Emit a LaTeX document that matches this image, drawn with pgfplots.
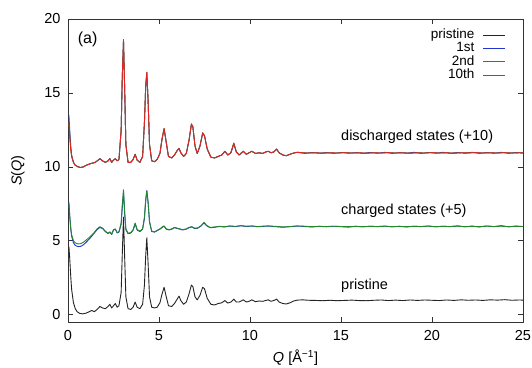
\documentclass[border=0pt]{standalone}
\usepackage{pgfplots}
\pgfplotsset{compat=1.18}
\usepackage{pgfplotstable}
\usepackage{fontspec}
\setmainfont{Liberation Sans}
\definecolor{cblack}{RGB}{35,35,35}
\definecolor{cblue}{RGB}{35,55,205}
\definecolor{cgreen}{RGB}{35,135,45}
\definecolor{cred}{RGB}{228,35,35}

\pgfplotstableread{
q s
0.05 4.6
0.1 3.7
0.15 2.6
0.2 1.7
0.3 0.8
0.4 0.4
0.5 0.2
0.65 0.08
0.8 0.05
1.0 0.1
1.2 0.22
1.3 0.28
1.45 0.2
1.6 0.35
1.75 0.55
1.9 0.45
2.05 0.4
2.2 0.55
2.3 0.7
2.4 0.45
2.5 0.6
2.6 0.75
2.7 0.5
2.8 0.6
2.92 1.5
2.98 4.0
3.05 6.6
3.11 4.0
3.18 1.2
3.3 0.4
3.45 0.35
3.58 0.5
3.69 0.85
3.8 0.5
3.95 0.4
4.1 0.7
4.2 2.0
4.27 4.0
4.33 5.2
4.4 3.5
4.48 1.2
4.6 0.5
4.75 0.45
4.9 0.5
5.05 0.8
5.17 1.4
5.28 1.85
5.38 1.3
5.52 0.6
5.7 0.55
5.85 0.75
6.0 1.05
6.1 1.25
6.2 0.95
6.35 0.7
6.5 0.85
6.65 1.4
6.78 2.0
6.86 1.9
6.98 1.2
7.1 1.0
7.25 1.3
7.4 1.85
7.5 1.75
7.65 1.1
7.85 0.7
8.05 0.65
8.25 0.75
8.45 0.8
8.62 0.95
8.78 0.78
8.95 0.85
9.11 1.05
9.25 0.85
9.4 0.85
9.63 1.0
9.8 0.85
9.95 0.9
10.1 1.0
10.3 0.88
10.5 0.92
10.7 0.9
10.85 0.95
11.0 1.0
11.15 0.9
11.3 0.95
11.46 1.05
11.6 0.85
11.8 0.75
12.0 0.72
12.2 0.8
12.4 0.92
12.6 0.98
12.9 1.0
13.2 0.97
13.6 0.96
14.0 0.94
14.4 0.97
14.8 0.94
15.2 0.96
15.6 0.98
16.0 0.95
16.4 0.94
16.8 0.97
17.2 0.99
17.6 0.95
18.0 0.98
18.4 0.95
18.8 0.99
19.2 0.96
19.6 0.99
20.0 0.97
20.4 0.95
20.8 0.99
21.2 0.96
21.6 1.0
22.0 0.97
22.4 0.99
22.8 0.96
23.2 1.0
23.6 0.98
24.0 1.01
24.4 0.97
24.8 0.99
25.0 0.98
}\pristine

\pgfplotstableread{
q s
0.05 7.6
0.1 6.6
0.15 5.8
0.2 5.3
0.3 4.85
0.4 4.68
0.55 4.6
0.7 4.62
0.85 4.72
1.0 4.9
1.2 5.15
1.4 5.45
1.6 5.75
1.75 5.9
1.9 5.82
2.05 5.62
2.2 5.48
2.3 5.58
2.4 5.42
2.5 5.72
2.6 5.78
2.7 5.52
2.8 5.58
2.92 6.1
2.98 7.2
3.05 8.3
3.11 6.9
3.18 5.75
3.3 5.48
3.45 5.52
3.58 5.72
3.69 6.15
3.8 5.72
3.95 5.62
4.1 5.78
4.2 6.5
4.27 7.7
4.33 8.4
4.4 7.6
4.48 6.25
4.6 5.62
4.75 5.58
4.9 5.68
5.05 5.78
5.2 5.92
5.28 5.98
5.4 5.78
5.55 5.73
5.7 5.78
5.85 5.88
6.0 5.83
6.15 5.78
6.3 5.73
6.5 5.78
6.65 5.88
6.8 5.93
6.95 5.83
7.1 5.83
7.3 5.98
7.48 6.2
7.6 6.03
7.8 5.88
8.0 5.9
8.3 5.96
8.6 5.93
8.9 5.99
9.2 5.95
9.5 6.01
9.8 5.96
10.1 5.99
10.4 5.94
10.7 5.97
11.0 5.99
11.4 5.95
11.8 5.91
12.2 5.95
12.6 5.99
13.0 5.96
13.4 5.93
13.8 5.97
14.2 5.94
14.6 5.98
15.0 5.95
15.4 5.92
15.8 5.97
16.2 5.94
16.6 5.98
17.0 5.95
17.4 5.99
17.8 5.94
18.2 5.97
18.6 5.93
19.0 5.98
19.4 5.95
19.8 6.0
20.2 5.94
20.6 5.98
21.0 5.95
21.4 6.01
21.8 5.94
22.2 5.99
22.6 5.93
23.0 6.0
23.4 5.95
23.8 6.02
24.2 5.94
24.6 5.99
25.0 5.96
}\chargedA

\pgfplotstableread{
q s
0.05 7.5
0.1 6.6
0.15 5.9
0.2 5.4
0.3 5.0
0.4 4.85
0.55 4.78
0.7 4.8
0.85 4.9
1.0 5.05
1.2 5.25
1.4 5.5
1.6 5.8
1.75 5.95
1.9 5.85
2.05 5.65
2.2 5.5
2.3 5.6
2.4 5.45
2.5 5.75
2.6 5.8
2.7 5.55
2.8 5.6
2.92 6.2
2.98 7.4
3.05 8.45
3.11 7.0
3.18 5.8
3.3 5.5
3.45 5.55
3.58 5.75
3.69 6.2
3.8 5.75
3.95 5.65
4.1 5.8
4.2 6.6
4.27 7.8
4.33 8.35
4.4 7.6
4.48 6.3
4.6 5.65
4.75 5.6
4.9 5.7
5.05 5.8
5.2 5.95
5.28 6.0
5.4 5.8
5.55 5.75
5.7 5.8
5.85 5.9
6.0 5.85
6.15 5.8
6.3 5.75
6.5 5.8
6.65 5.9
6.8 5.95
6.95 5.85
7.1 5.85
7.3 6.0
7.48 6.25
7.6 6.05
7.8 5.9
8.0 5.92
8.3 5.97
8.6 5.95
8.9 6.0
9.2 5.97
9.5 6.02
9.8 5.98
10.1 6.0
10.4 5.96
10.7 5.98
11.0 6.0
11.4 5.97
11.8 5.93
12.2 5.96
12.6 6.0
13.0 5.98
13.4 5.95
13.8 5.97
14.2 5.96
14.6 5.98
15.0 5.96
15.4 5.95
15.8 5.97
16.2 5.95
16.6 5.97
17.0 5.96
17.4 5.98
17.8 5.95
18.2 5.97
18.6 5.95
19.0 5.97
19.4 5.96
19.8 5.98
20.2 5.95
20.6 5.97
21.0 5.96
21.4 5.98
21.8 5.95
22.2 5.97
22.6 5.95
23.0 5.98
23.4 5.96
23.8 5.98
24.2 5.95
24.6 5.97
25.0 5.96
}\chargedB

\pgfplotstableread{
q s
0.05 13.0
0.1 12.0
0.15 11.2
0.2 10.7
0.3 10.3
0.4 10.1
0.55 10.0
0.7 9.95
0.85 10.0
1.0 10.1
1.2 10.2
1.35 10.25
1.5 10.3
1.65 10.45
1.75 10.55
1.9 10.4
2.05 10.3
2.2 10.4
2.3 10.55
2.4 10.3
2.5 10.45
2.6 10.55
2.7 10.4
2.8 10.5
2.92 12.5
2.98 16.0
3.05 18.6
3.11 15.5
3.18 11.5
3.3 10.3
3.45 10.3
3.58 10.5
3.69 10.85
3.8 10.45
3.95 10.3
4.1 10.7
4.2 13.0
4.27 15.5
4.33 16.4
4.4 14.5
4.48 11.5
4.6 10.4
4.75 10.35
4.9 10.5
5.05 10.9
5.17 11.9
5.28 12.6
5.38 11.8
5.52 10.7
5.7 10.6
5.85 10.8
6.0 11.1
6.1 11.25
6.2 10.95
6.35 10.7
6.5 10.9
6.65 11.8
6.78 12.9
6.86 12.7
6.98 11.4
7.1 10.9
7.25 11.4
7.4 12.3
7.5 12.1
7.65 11.2
7.85 10.65
8.05 10.6
8.25 10.7
8.45 10.8
8.62 11.05
8.78 10.8
8.95 10.95
9.11 11.6
9.25 11.0
9.4 10.8
9.63 11.05
9.8 10.85
9.95 10.95
10.1 11.05
10.3 10.9
10.5 10.95
10.7 10.9
10.85 11.0
11.0 11.05
11.15 10.95
11.3 11.0
11.46 11.2
11.6 10.95
11.8 10.8
12.0 10.75
12.2 10.85
12.4 10.93
12.6 10.98
12.9 10.95
13.2 10.93
13.6 10.95
14.0 10.92
14.4 10.95
14.8 10.93
15.2 10.96
15.6 10.93
16.0 10.95
16.4 10.92
16.8 10.95
17.2 10.93
17.6 10.96
18.0 10.93
18.4 10.95
18.8 10.92
19.2 10.95
19.6 10.93
20.0 10.96
20.4 10.93
20.8 10.95
21.2 10.92
21.6 10.95
22.0 10.94
22.4 10.96
22.8 10.93
23.2 10.95
23.6 10.93
24.0 10.96
24.4 10.93
24.8 10.95
25.0 10.94
}\dischargedC

\pgfplotstableread{
q s
0.05 13.5
0.1 12.4
0.15 11.4
0.2 10.8
0.3 10.3
0.4 10.1
0.55 10.0
0.7 9.95
0.85 10.0
1.0 10.1
1.2 10.2
1.35 10.25
1.5 10.3
1.65 10.45
1.75 10.55
1.9 10.4
2.05 10.3
2.2 10.4
2.3 10.55
2.4 10.3
2.5 10.45
2.6 10.55
2.7 10.4
2.8 10.5
2.92 12.4
2.98 15.9
3.05 18.5
3.11 15.4
3.18 11.5
3.3 10.3
3.45 10.3
3.58 10.5
3.69 10.85
3.8 10.45
3.95 10.3
4.1 10.7
4.2 13.0
4.27 15.4
4.33 16.3
4.4 14.5
4.48 11.5
4.6 10.4
4.75 10.35
4.9 10.5
5.05 10.9
5.17 11.9
5.28 12.55
5.38 11.8
5.52 10.7
5.7 10.6
5.85 10.8
6.0 11.1
6.1 11.25
6.2 10.95
6.35 10.7
6.5 10.9
6.65 11.8
6.78 12.85
6.86 12.7
6.98 11.4
7.1 10.9
7.25 11.4
7.4 12.25
7.5 12.1
7.65 11.2
7.85 10.65
8.05 10.6
8.25 10.7
8.45 10.8
8.62 11.05
8.78 10.8
8.95 10.95
9.11 11.55
9.25 11.0
9.4 10.8
9.63 11.05
9.8 10.85
9.95 10.95
10.1 11.05
10.3 10.9
10.5 10.95
10.7 10.9
10.85 11.0
11.0 11.05
11.15 10.95
11.3 11.0
11.46 11.2
11.6 10.95
11.8 10.8
12.0 10.75
12.2 10.85
12.4 10.93
12.6 10.98
13.0 10.91
13.4 10.97
13.8 10.92
14.2 10.96
14.6 10.91
15.0 10.97
15.4 10.92
15.8 10.96
16.2 10.91
16.6 10.97
17.0 10.92
17.4 10.98
17.8 10.91
18.2 10.96
18.6 10.92
19.0 10.98
19.4 10.91
19.8 10.97
20.2 10.92
20.6 10.98
21.0 10.91
21.4 10.97
21.8 10.92
22.2 10.98
22.6 10.91
23.0 10.97
23.4 10.92
23.8 10.98
24.2 10.91
24.6 10.97
25.0 10.93
}\dischargedA

\begin{document}
\begin{tikzpicture}
\begin{axis}[
  at={(0,0)}, anchor=south west,
  scale only axis, width=455bp, height=303bp,
  xmin=0, xmax=25, ymin=-0.5, ymax=20,
  xtick={0,5,10,15,20,25}, ytick={0,5,10,15,20},
  tick align=inside, major tick length=5bp,
  axis line style={line width=0.8bp, black!80},
  every tick/.style={black!80, line width=0.6bp},
  font=\fontsize{14.5bp}{17bp}\selectfont,
  /pgf/number format/assume math mode=true,
  xticklabel style={yshift=-5bp},
  yticklabel style={xshift=-4bp},
  xlabel={\textit{Q} [Å\textsuperscript{−1}]},
  ylabel={\textit{S}(\textit{Q})},
  every axis x label/.style={at={(axis description cs:0.5,-0.119)}, anchor=center},
  every axis y label/.style={at={(axis description cs:-0.11,0.5)}, anchor=center, rotate=90},
  legend plot pos=right,
  legend cell align=right,
  legend image code/.code={\draw[#1, line width=1bp] (0bp,0bp) -- (22bp,0bp);},
  legend style={draw=none, fill=none, inner sep=0pt, outer sep=0pt,
    at={(rel axis cs:0.962,0.968)}, anchor=north east,
    nodes={inner sep=0.3bp, text height=9.5bp, text depth=3.2bp},
    /tikz/every odd column/.append style={column sep=8bp},
    font=\fontsize{13.5bp}{15bp}\selectfont},
  line join=round,
]
\addplot[cblack, line width=0.9bp] table[x=q,y=s] {\pristine};
\addlegendentry{pristine}
\addplot[cblue, line width=0.9bp] table[x=q,y=s] {\chargedA};
\addlegendentry{1st}
\addplot[cblue, line width=0.9bp, forget plot] table[x=q,y=s] {\dischargedA};
\addplot[cgreen, line width=0.9bp] table[x=q,y=s] {\chargedB};
\addlegendentry{2nd}
\addplot[cgreen, line width=0.9bp, forget plot] table[x=q,y=s] {\dischargedC};
\addplot[cred, line width=0.9bp] table[x=q,y=s] {\dischargedC};
\addlegendentry{10th}
\node[anchor=mid west, inner sep=0pt] at (axis cs:15,11.95) {discharged states (+10)};
\node[anchor=mid west, inner sep=0pt] at (axis cs:15,6.93) {charged states (+5)};
\node[anchor=mid west, inner sep=0pt] at (axis cs:15,1.91) {pristine};
\node[anchor=mid west, inner sep=0pt, font=\fontsize{16bp}{18bp}\selectfont] at (axis cs:0.53,18.5) {(a)};
\end{axis}
\pgfresetboundingbox
\path[use as bounding box] (-68bp,-46bp) rectangle (464bp,322bp);
\end{tikzpicture}
\end{document}
